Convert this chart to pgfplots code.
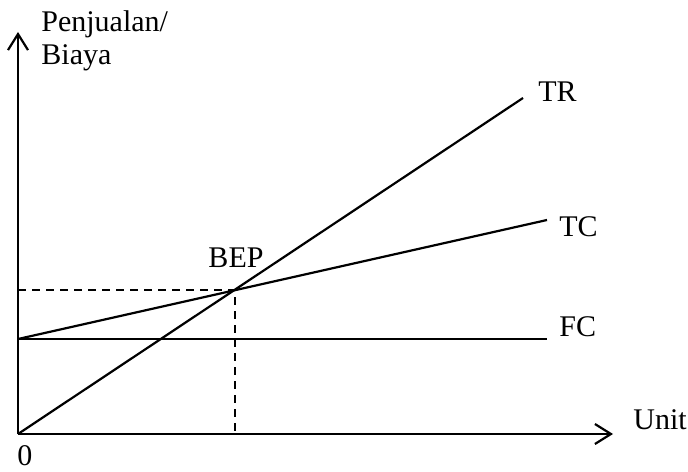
\documentclass[border=0pt]{standalone}
\usepackage{fontspec}
\setmainfont{Liberation Serif}
\usepackage{pgfplots}
\pgfplotsset{compat=1.18}
\usetikzlibrary{arrows.meta}

% lines of the break-even chart: FC = 19, TC = 19 + 0.225x, TR = 0.665x
\pgfplotstableread{
x    tr
0    0
101  67.2
}\trdata
\pgfplotstableread{
x      tc
0      19
105.8  42.8
}\tcdata
\pgfplotstableread{
x      fc
0      19
105.8  19
}\fcdata

\begin{document}
\begin{tikzpicture}[lbl/.style={font=\fontsize{15}{18}\selectfont, inner sep=0pt}]
\begin{axis}[
    width=344pt, height=235.5pt,
    scale only axis,
    hide axis,
    xmin=-3.6, xmax=134,
    ymin=-7.4, ymax=86.8,
    clip=false,
]
\addplot[black, line width=1.1pt] table[x=x, y=tr] {\trdata};
\addplot[black, line width=1.1pt] table[x=x, y=tc] {\tcdata};
\addplot[black, line width=1.1pt] table[x=x, y=fc] {\fcdata};
% BEP guides
\addplot[black, line width=1pt, dash pattern=on 4pt off 3pt] coordinates {(0,28.8) (43.4,28.8) (43.4,0)};
% axes
\draw[line width=1.1pt, -{Straight Barb[length=8pt, width=10pt, line width=1.1pt]}] (axis cs:0,0) -- (axis cs:119,0);
\draw[line width=1.1pt, -{Straight Barb[length=8pt, width=10pt, line width=1.1pt]}] (axis cs:0,0) -- (axis cs:0,80.4);
% labels
\node[lbl, anchor=base west] at (axis cs:4.6,80.4) {Penjualan/};
\node[lbl, anchor=base west] at (axis cs:4.6,73.8) {Biaya};
\node[lbl, anchor=west] at (axis cs:104,68.4) {TR};
\node[lbl, anchor=west] at (axis cs:108.2,41.4) {TC};
\node[lbl, anchor=west] at (axis cs:108.2,21.4) {FC};
\node[lbl, anchor=west] at (axis cs:123,2.8) {Unit};
\node[lbl] at (axis cs:43.6,35.2) {BEP};
\node[lbl] at (axis cs:1.4,-4.3) {0};
\end{axis}
\path (current axis.south west) rectangle (current axis.north east);
\end{tikzpicture}
\end{document}
